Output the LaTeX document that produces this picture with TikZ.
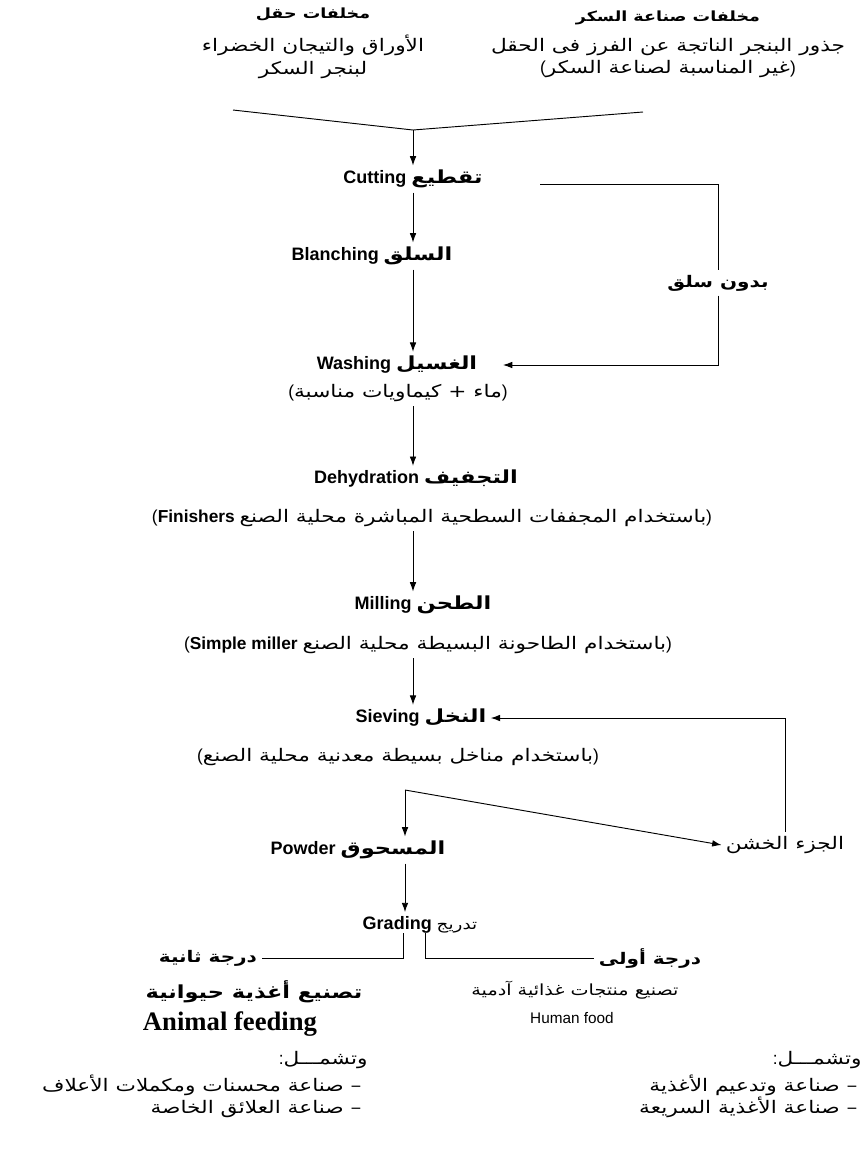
\documentclass[tikz,border=0pt]{standalone}
\usepackage{fontspec}
\usetikzlibrary{arrows.meta}
\setmainfont{Liberation Sans}
\newfontfamily\arabicfont[Script=Arabic,FakeStretch=1.25]{DejaVu Sans}
\newfontfamily\timesfont{Liberation Serif}
\TeXXeTstate=1
\newcommand{\artext}[1]{{\arabicfont\beginR #1\endR}}

\begin{document}
\begin{tikzpicture}[x=0.75pt,y=-0.75pt,>={Latex[length=7pt,width=5pt]},line width=0.7pt]
		\tikzstyle{every node}=[inner sep=3pt];
		\tikzstyle{head}=[font=\bfseries\fontsize{10.5}{13}\selectfont];
		\tikzstyle{stage}=[font=\bfseries\fontsize{13.5}{16}\selectfont];
		\tikzstyle{grade}=[font=\bfseries\fontsize{12}{15}\selectfont];
		\tikzstyle{note}=[font=\fontsize{13}{17}\selectfont];
		\useasboundingbox (0,0) rectangle (867,1158);
		% sources of the waste
		\node[head] (fieldhead) at (313,14) {\artext{مخلفات حقل}};
		\node[head] (sugarhead) at (668,18) {\artext{مخلفات صناعة السكر}};
		\node[note,align=center] (fieldsrc) at (313,57) {\artext{الأوراق والتيجان الخضراء}\\\artext{لبنجر السكر}};
		\node[note,align=center] (sugarsrc) at (668,58) {\artext{جذور البنجر الناتجة عن الفرز فى الحقل}\\(\artext{غير المناسبة لصناعة السكر})};
		\coordinate (vl) at (233,110);
		\coordinate (vm) at (413,130);
		\coordinate (vr) at (643,112);
		% process line
		\node[stage] (cut) at (413,179) {Cutting \artext{تقطيع}};
		\coordinate (bp) at (540,184);
		\node[stage] (blanch) at (372,256) {Blanching \artext{السلق}};
		\node[grade] (bypass) at (718,283) {\artext{بدون سلق}};
		\node[stage] (wash) at (397,365) {Washing \artext{الغسيل}};
		\node[note] (washnote) at (398,393) {(\artext{ماء + كيماويات مناسبة})};
		\node[stage] (dehyd) at (416,479) {Dehydration \artext{التجفيف}};
		\node[note] (dehydnote) at (432,518) {(\textbf{Finishers} \artext{باستخدام المجففات السطحية المباشرة محلية الصنع})};
		\node[stage] (mill) at (423,605) {Milling \artext{الطحن}};
		\node[note] (millnote) at (428,645) {(\textbf{Simple miller} \artext{باستخدام الطاحونة البسيطة محلية الصنع})};
		\node[stage] (sieve) at (421,718) {Sieving \artext{النخل}};
		\node[note] (sievenote) at (398,757) {(\artext{باستخدام مناخل بسيطة معدنية محلية الصنع})};
		\coordinate (split) at (405,790);
		\node[stage] (powder) at (358,850) {Powder \artext{المسحوق}};
		\node[note] (coarse) at (785,845) {\artext{الجزء الخشن}};
		\node[stage] (grade) at (420,925) {Grading {\mdseries\fontsize{11}{13}\selectfont\artext{تدريج}}};
		\coordinate (gl) at (403,933);
		\coordinate (gr) at (425,933);
		% the two grades
		\node[grade] (second) at (208,958) {\artext{درجة ثانية}};
		\node[grade] (first) at (650,958) {\artext{درجة أولى}};
		\node[font=\bfseries\fontsize{13.5}{18}\selectfont] (animal) at (254,992) {\artext{تصنيع أغذية حيوانية}};
		\node[font=\timesfont\bfseries\fontsize{20}{22}\selectfont] (animalen) at (230,1024) {Animal feeding};
		\node[font=\fontsize{11.5}{14}\selectfont] (human) at (575,990) {\artext{تصنيع منتجات غذائية آدمية}};
		\node[font=\fontsize{11.5}{14}\selectfont] (humanen) at (572,1018) {Human food};
		\node[note,anchor=east] (leftincl) at (372,1060) {:\artext{وتشمـــل}};
		\node[note,anchor=north east,align=right] (leftlist) at (366,1070) {\artext{– صناعة محسنات ومكملات الأعلاف}\\\artext{– صناعة العلائق الخاصة}};
		\node[note,anchor=east] (rightincl) at (866,1060) {:\artext{وتشمـــل}};
		\node[note,anchor=north east,align=right] (rightlist) at (862,1070) {\artext{– صناعة وتدعيم الأغذية}\\\artext{– صناعة الأغذية السريعة}};
		\draw (vl) -- (vm) -- (vr);
		\draw[->] (vm) -- (cut);
		\draw (bp) -| (bypass);
		\draw[->,shorten >=16pt] (bypass) |- (wash);
		\draw[->] (cut) -- (cut |- blanch.north);
		\draw[->] (blanch.south -| cut) -- (cut |- wash.north);
		\draw[->] (washnote.south -| cut) -- (cut |- dehyd.north);
		\draw[->] (dehydnote.south -| cut) -- (cut |- mill.north);
		\draw[->] (millnote.south -| cut) -- (cut |- sieve.north);
		\draw[->] (split) -- (split |- powder.north);
		\draw[->] (split) -- (coarse.west);
		\draw[->] (coarse.north) |- (sieve.east);
		\draw[->] (powder.south -| split) -- (split |- grade.north);
		\draw (gl) |- (second.east);
		\draw (gr) |- (first.west);
	\end{tikzpicture}
\end{document}
